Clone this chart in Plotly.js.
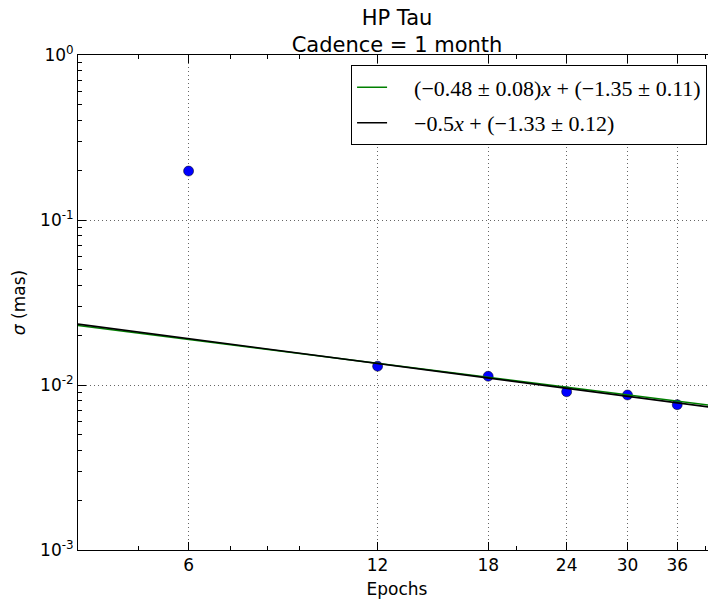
<!DOCTYPE html>
<html>
<head>
<meta charset="utf-8">
<script src="https://cdn.plot.ly/plotly-3.0.1.min.js"></script>
<style>
html, body { margin: 0; padding: 0; overflow: hidden; background: #fff; }
#chart { width: 724px; height: 603px; }
</style>
</head>
<body>
<div id="chart"></div>
<script>
// Data
const epochs = [6, 12, 18, 24, 30, 36];
const sigma = [0.198, 0.0130, 0.0113, 0.0091, 0.0087, 0.0076];

const fitX = [4, 41.5];
const fitFreeY = [0.02296, 0.00747];   // green: (-0.48±0.08)x + (-1.35±0.11)
const fitFixedY = [0.02339, 0.00726];  // black: -0.5x + (-1.33±0.12)

const pad = '\u00A0\u00A0\u00A0\u00A0';
const fitFreeName = pad + '(\u22120.48 \u00B1 0.08)<i>x</i> + (\u22121.35 \u00B1 0.11)';
const fitFixedName = pad + '\u22120.5<i>x</i> + (\u22121.33 \u00B1 0.12)';

const xTickVals = [6, 12, 18, 24, 30, 36];
const xTickText = ['6', '12', '18', '24', '30', '36'];
const xMinorVals = [4, 5, 7, 8, 9, 20, 40];
const yTickVals = [0.001, 0.01, 0.1, 1];
const yTickText = ['10<sup>-3</sup>', '10<sup>-2</sup>', '10<sup>-1</sup>', '10<sup>0</sup>'];
const yMinorVals = [0.002, 0.003, 0.004, 0.005, 0.006, 0.007, 0.008, 0.009,
                    0.02, 0.03, 0.04, 0.05, 0.06, 0.07, 0.08, 0.09,
                    0.2, 0.3, 0.4, 0.5, 0.6, 0.7, 0.8, 0.9];

const traces = [
  {
    x: epochs, y: sigma, type: 'scatter', mode: 'markers',
    marker: { color: '#0000ff', size: 10, line: { color: '#000', width: 0.5 } },
    showlegend: false, cliponaxis: false
  },
  {
    x: fitX, y: fitFreeY, type: 'scatter', mode: 'lines',
    line: { color: '#008000', width: 1.5 }, name: fitFreeName, legendgroup: 'a'
  },
  {
    x: fitX, y: fitFixedY, type: 'scatter', mode: 'lines',
    line: { color: '#000000', width: 1.6 }, name: fitFixedName, legendgroup: 'b'
  }
];

const axisCommon = {
  type: 'log',
  showline: true, linecolor: '#000', linewidth: 1, mirror: 'ticks',
  ticks: 'inside', ticklen: 8, tickcolor: '#000', tickwidth: 1,
  showgrid: true, gridcolor: '#666', griddash: '1px,3px', gridwidth: 1,
  zeroline: false,
  tickfont: { family: 'DejaVu Sans', size: 17, color: '#000' }
};

const layout = {
  width: 724, height: 603,
  margin: { l: 78, r: 8, t: 55, b: 53 },
  paper_bgcolor: '#fff', plot_bgcolor: '#fff',
  font: { family: 'DejaVu Sans', color: '#000' },
  title: {
    text: 'HP Tau<br>Cadence = 1 month',
    font: { family: 'DejaVu Sans', size: 21, color: '#000' },
    x: 0.5, xref: 'paper', xanchor: 'center',
    y: 1 - 25 / 603, yref: 'container', yanchor: 'top'
  },
  xaxis: Object.assign({}, axisCommon, {
    range: [Math.log10(4), Math.log10(41.5)],
    tickmode: 'array', tickvals: xTickVals, ticktext: xTickText,
    minor: { tickmode: 'array', tickvals: xMinorVals, ticks: 'inside', ticklen: 4, tickcolor: '#000', tickwidth: 1, showgrid: false },
    title: { text: 'Epochs', font: { family: 'DejaVu Sans', size: 17, color: '#000' }, standoff: 8 }
  }),
  yaxis: Object.assign({}, axisCommon, {
    range: [-3, 0],
    tickmode: 'array', tickvals: yTickVals, ticktext: yTickText,
    minor: { tickmode: 'array', tickvals: yMinorVals, ticks: 'inside', ticklen: 4, tickcolor: '#000', tickwidth: 1, showgrid: false },
    title: { text: '<i>\u03C3</i> (mas)', font: { family: 'DejaVu Sans', size: 17, color: '#000' }, standoff: 10 }
  }),
  legend: {
    x: 0.986, xanchor: 'right', y: 0.979, yanchor: 'top',
    bgcolor: '#fff', bordercolor: '#000', borderwidth: 1,
    font: { family: 'Liberation Serif', size: 22, color: '#000' },
    traceorder: 'grouped', tracegroupgap: 4,
    itemwidth: 30
  },
  showlegend: true
};

Plotly.newPlot('chart', traces, layout, { displayModeBar: false, staticPlot: true });
</script>
</body>
</html>
